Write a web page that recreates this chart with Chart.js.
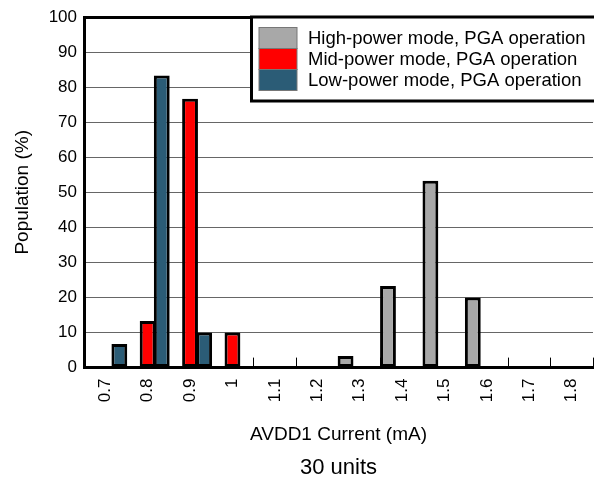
<!DOCTYPE html>
<html>
<head>
<meta charset="utf-8">
<script src="https://cdn.jsdelivr.net/npm/chart.js@4"></script>
<style>
  html, body { margin: 0; padding: 0; background: #fff; }
  #wrap { width: 594px; height: 483px; }
</style>
</head>
<body>
<div id="wrap"><canvas id="histChart" width="594" height="483"></canvas></div>
<script>
// AVDD1 current bins (mA)
var currentBins = ['0.7', '0.8', '0.9', '1', '1.1', '1.2', '1.3', '1.4', '1.5', '1.6', '1.7', '1.8'];
// population in % of 30 units
var highPower = [0, 0, 0, 0, 0, 0, 3.3, 23.3, 53.3, 20, 0, 0];
var midPower = [0, 13.3, 76.7, 10, 0, 0, 0, 0, 0, 0, 0, 0];
var lowPower = [6.7, 83.3, 10, 0, 0, 0, 0, 0, 0, 0, 0, 0];
var yTicks = [0, 10, 20, 30, 40, 50, 60, 70, 80, 90, 100];

var FONT = "'Liberation Sans', Arial, sans-serif";

// boxed legend in the top right corner of the plot
var boxLegend = {
    id: 'boxLegend',
    afterDraw: function(chart) {
        var ctx = chart.ctx;
        var x0 = 251.5, y0 = 17, w = 345, h = 84;
        ctx.save();
        ctx.fillStyle = '#fff';
        ctx.fillRect(x0, y0, w, h);
        ctx.strokeStyle = '#000';
        ctx.lineWidth = 3;
        ctx.strokeRect(x0, y0, w, h);
        ctx.font = '18.5px ' + FONT;
        ctx.textBaseline = 'middle';
        chart.data.datasets.forEach(function(ds, i) {
            var ry = 27.5 + i * 21;
            ctx.fillStyle = ds.backgroundColor;
            ctx.fillRect(259, ry, 38, 21);
            ctx.strokeStyle = '#777';
            ctx.lineWidth = 1;
            ctx.strokeRect(259, ry, 38, 21);
            ctx.fillStyle = '#000';
            ctx.fillText(ds.label, 308, ry + 11);
        });
        ctx.restore();
    }
};

var ctx = document.getElementById('histChart').getContext('2d');
new Chart(ctx, {
    type: 'bar',
    data: {
        labels: currentBins,
        datasets: [
            { label: 'High-power mode, PGA operation', data: highPower, backgroundColor: '#a8a8a8' },
            { label: 'Mid-power mode, PGA operation', data: midPower, backgroundColor: '#ff0000' },
            { label: 'Low-power mode, PGA operation', data: lowPower, backgroundColor: '#2b5c76' }
        ]
    },
    options: {
        responsive: false,
        animation: false,
        layout: { padding: { top: 17, right: 1, left: 0, bottom: 0 } },
        datasets: {
            bar: {
                barPercentage: 1.12,
                categoryPercentage: 1,
                borderColor: '#000',
                borderWidth: 3,
                borderSkipped: false
            }
        },
        scales: {
            x: {
                grid: {
                    offset: true,
                    drawOnChartArea: false,
                    drawTicks: true,
                    tickLength: -10,
                    color: '#000',
                    lineWidth: 1
                },
                border: { color: '#000', width: 3 },
                ticks: {
                    minRotation: 90,
                    maxRotation: 90,
                    padding: 21,
                    color: '#000',
                    font: { family: FONT, size: 17 }
                },
                title: {
                    display: true,
                    text: 'AVDD1 Current (mA)',
                    color: '#000',
                    font: { family: FONT, size: 19 },
                    padding: { top: 0, bottom: 8 }
                },
                afterFit: function(scale) {
                    scale.height = 87;
                    scale.paddingLeft = 0;
                    scale.paddingRight = 0;
                }
            },
            y: {
                min: 0,
                max: 100,
                afterBuildTicks: function(scale) {
                    scale.ticks = yTicks.map(function(v) { return { value: v }; });
                },
                grid: {
                    drawTicks: false,
                    color: function(c) { return c.tick && c.tick.value === 100 ? '#000' : '#666'; },
                    lineWidth: function(c) { return c.tick && c.tick.value === 100 ? 3 : 1; }
                },
                border: { color: '#000', width: 3 },
                ticks: {
                    padding: 7,
                    color: '#000',
                    font: { family: FONT, size: 17 }
                },
                title: {
                    display: true,
                    text: 'Population (%)',
                    color: '#000',
                    font: { family: FONT, size: 19 },
                    padding: { top: 11, bottom: 0 }
                },
                afterFit: function(scale) {
                    scale.width = 84;
                    scale.paddingTop = 0;
                    scale.paddingBottom = 0;
                }
            }
        },
        plugins: {
            legend: { display: false },
            tooltip: { enabled: false },
            title: {
                display: true,
                position: 'bottom',
                fullSize: false,
                text: '30 units',
                color: '#000',
                font: { family: FONT, size: 22, weight: 'normal' },
                padding: { top: 0, bottom: 2 }
            }
        }
    },
    plugins: [boxLegend]
});
</script>
</body>
</html>
